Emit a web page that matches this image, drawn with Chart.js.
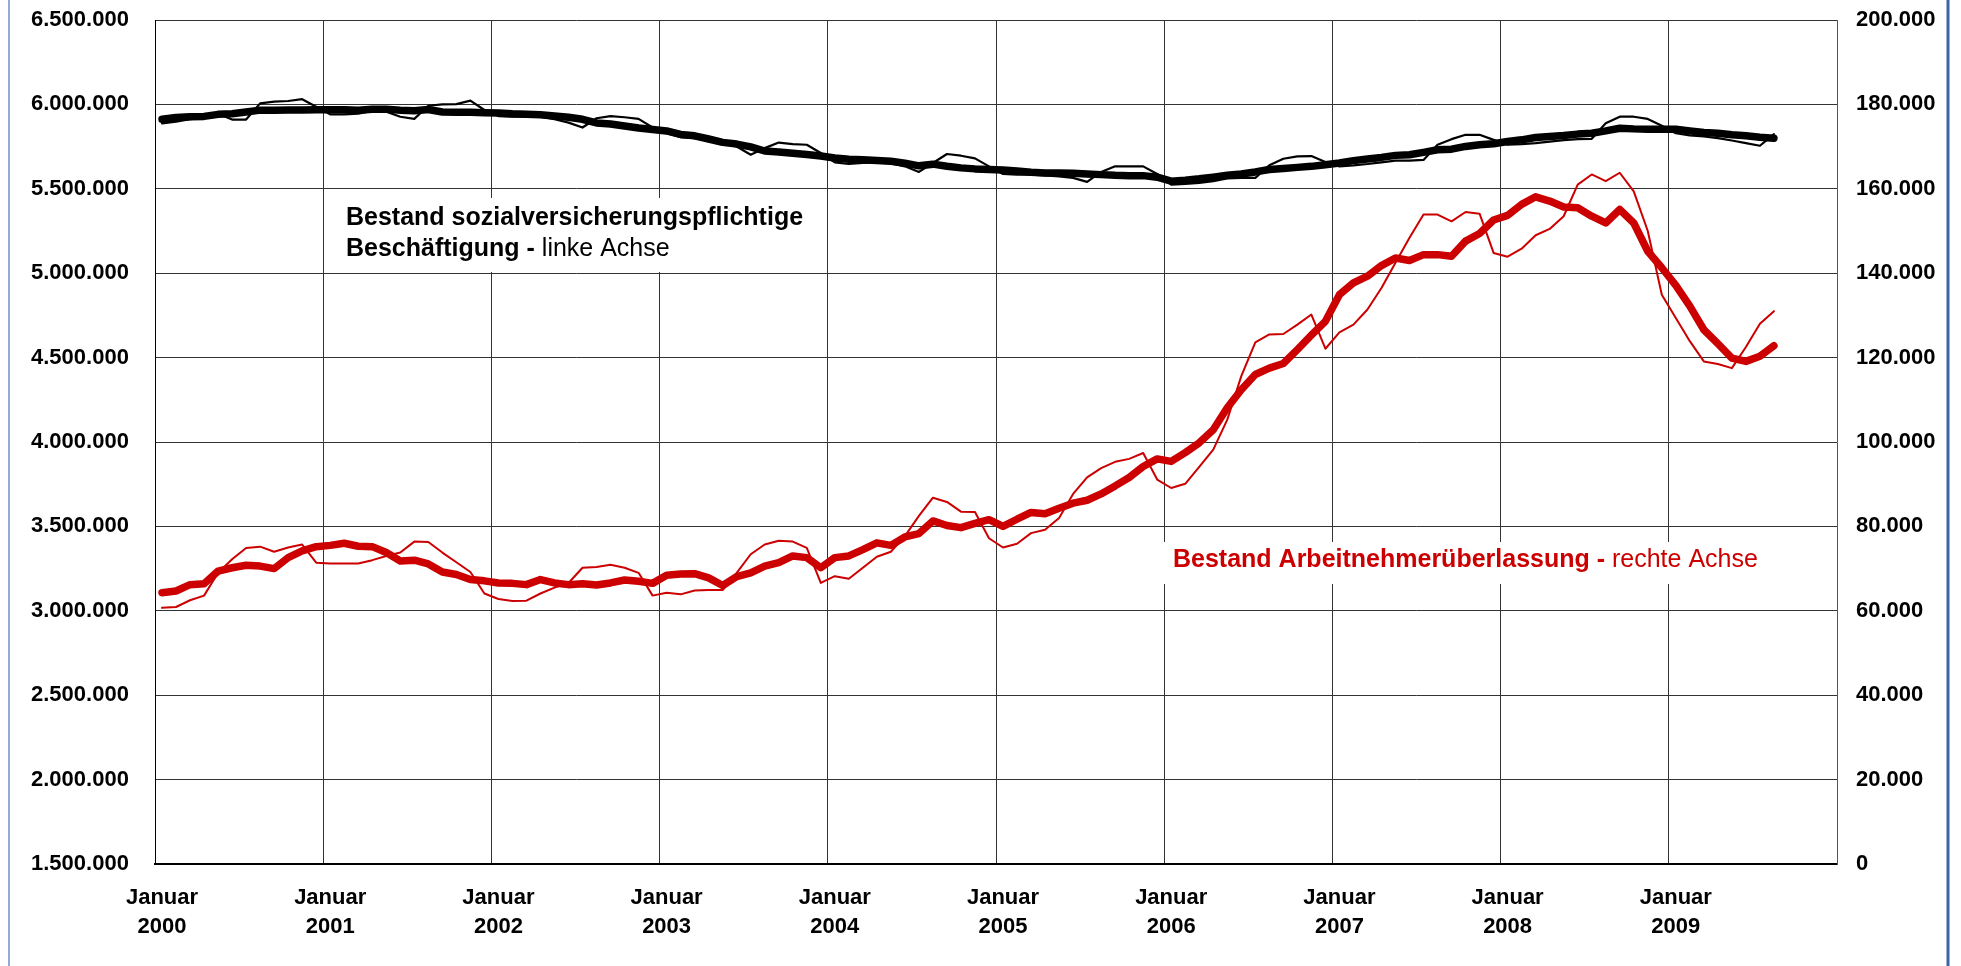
<!DOCTYPE html>
<html>
<head>
<meta charset="utf-8">
<script src="https://cdn.jsdelivr.net/npm/chart.js@4/dist/chart.umd.min.js"></script>
<style>
  body { margin: 0; background: #fff; }
  #wrap { width: 1961px; height: 966px; }
</style>
</head>
<body>
<div id="wrap"><canvas id="myChart"></canvas></div>
<script>
// categories: one slot per month, Jan 2000 - Dec 2009
let years = ['2000', '2001', '2002', '2003', '2004', '2005', '2006', '2007', '2008', '2009']
let monthNames = ['01', '02', '03', '04', '05', '06', '07', '08', '09', '10', '11', '12']
let labels = years.flatMap(y => monthNames.map(m => y + '-' + m))

// Bestand sozialversicherungspflichtige Beschaeftigung (left axis)
let employmentTrend = [
  5912000, 5922000, 5927000, 5929000, 5941000, 5945000, 5955000, 5966000, 5966000, 5967000, 5967000, 5968000,
  5969000, 5969000, 5965000, 5971000, 5972000, 5966000, 5963000, 5970000, 5955000, 5954000, 5953000, 5951000,
  5949000, 5944000, 5941000, 5939000, 5931000, 5924000, 5912000, 5890000, 5884000, 5872000, 5860000, 5851000,
  5843000, 5822000, 5814000, 5795000, 5775000, 5765000, 5748000, 5724000, 5718000, 5710000, 5703000, 5694000,
  5682000, 5675000, 5672000, 5667000, 5663000, 5652000, 5636000, 5646000, 5634000, 5624000, 5618000, 5615000,
  5612000, 5606000, 5598000, 5594000, 5594000, 5592000, 5588000, 5584000, 5580000, 5578000, 5578000, 5569000,
  5545000, 5551000, 5559000, 5569000, 5580000, 5588000, 5600000, 5614000, 5620000, 5627000, 5633000, 5643000,
  5653000, 5667000, 5676000, 5686000, 5698000, 5702000, 5716000, 5731000, 5735000, 5751000, 5761000, 5767000,
  5780000, 5790000, 5804000, 5810000, 5816000, 5824000, 5829000, 5843000, 5859000, 5855000, 5853000, 5853000,
  5853000, 5843000, 5833000, 5829000, 5820000, 5814000, 5806000, 5800000
]
let employmentRaw = [
  5888000, 5898000, 5912000, 5918000, 5945000, 5910000, 5910000, 6006000, 6016000, 6020000, 6031000, 5986000,
  5941000, 5941000, 5945000, 5961000, 5957000, 5927000, 5914000, 5992000, 6000000, 6002000, 6022000, 5967000,
  5931000, 5927000, 5927000, 5927000, 5912000, 5892000, 5863000, 5918000, 5931000, 5924000, 5914000, 5863000,
  5829000, 5806000, 5800000, 5784000, 5771000, 5751000, 5702000, 5741000, 5774000, 5765000, 5761000, 5712000,
  5657000, 5647000, 5653000, 5657000, 5651000, 5633000, 5600000, 5653000, 5706000, 5696000, 5680000, 5633000,
  5588000, 5584000, 5584000, 5580000, 5574000, 5565000, 5541000, 5600000, 5633000, 5633000, 5633000, 5588000,
  5525000, 5529000, 5535000, 5545000, 5561000, 5565000, 5565000, 5639000, 5678000, 5692000, 5694000, 5659000,
  5633000, 5639000, 5647000, 5657000, 5667000, 5667000, 5671000, 5761000, 5794000, 5820000, 5820000, 5790000,
  5761000, 5765000, 5771000, 5780000, 5788000, 5794000, 5796000, 5888000, 5927000, 5927000, 5914000, 5874000,
  5829000, 5816000, 5810000, 5800000, 5786000, 5771000, 5755000, 5824000
]

// Bestand Arbeitnehmerueberlassung (right axis)
let leasingTrend = [
  64300, 64700, 66200, 66400, 69400, 70200, 70800, 70600, 70000, 72600, 74200, 75200,
  75500, 76000, 75300, 75200, 73800, 71800, 72000, 71100, 69200, 68600, 67400, 67100,
  66600, 66500, 66200, 67400, 66600, 66200, 66400, 66100, 66600, 67300, 67000, 66500,
  68400, 68700, 68800, 67800, 66000, 68100, 69000, 70600, 71400, 73000, 72600, 70200,
  72600, 73000, 74500, 76100, 75500, 77500, 78300, 81300, 80200, 79700, 80700, 81600,
  80000, 81700, 83300, 83000, 84300, 85500, 86200, 87700, 89600, 91600, 94200, 96000,
  95400, 97500, 99800, 102900, 108100, 112400, 116000, 117500, 118600, 121900, 125300, 128600,
  134900, 137700, 139300, 141800, 143600, 143000, 144400, 144400, 144000, 147600, 149400, 152600,
  153700, 156300, 158100, 157100, 155700, 155500, 153500, 151900, 155100, 151900, 145200, 141300,
  137100, 132200, 126600, 123300, 119900, 119100, 120300, 122800
]
let leasingRaw = [
  60700, 60900, 62500, 63600, 69000, 72200, 74900, 75200, 74000, 75000, 75700, 71400,
  71200, 71200, 71200, 72000, 73000, 73800, 76400, 76300, 73800, 71500, 69200, 64100,
  62800, 62300, 62400, 64100, 65500, 66600, 70200, 70400, 70900, 70200, 69000, 63600,
  64300, 63900, 64800, 64900, 64900, 69000, 73400, 75700, 76600, 76400, 74900, 66600,
  68200, 67600, 70200, 72800, 74000, 77700, 82500, 86800, 85800, 83500, 83400, 77200,
  75000, 75900, 78400, 79200, 82000, 87700, 91600, 93800, 95300, 96000, 97400, 91100,
  89100, 90100, 94100, 98200, 105300, 115600, 123600, 125500, 125600, 127800, 130200, 122100,
  126000, 127800, 131400, 136500, 142500, 148400, 153900, 153900, 152300, 154500, 154100, 144800,
  143900, 145800, 149000, 150500, 153500, 161000, 163400, 161800, 163800, 159400, 150000, 134900,
  129400, 123900, 119100, 118500, 117500, 122500, 128000, 131000
]

let red = '#cc0000'
let font = '"Liberation Sans", Arial, sans-serif'
Chart.defaults.font.family = font

// 6500000 -> "6.500.000"
let dots = v => String(v).replace(/\B(?=(\d{3})+(?!\d))/g, '.')

// mixed bold / normal text line
function richLine(c, x, y, parts) {
  parts.forEach(p => {
    c.font = (p.bold ? 'bold ' : '') + '25px ' + font
    c.fillText(p.text, x, y)
    x += c.measureText(p.text).width
  })
}

let notes = {
  id: 'notes',
  beforeDraw(chart) {
    let c = chart.ctx
    c.save()
    c.fillStyle = '#fff'
    c.fillRect(0, 0, chart.width, chart.height)
    c.restore()
  },
  beforeDatasetsDraw(chart) {
    let c = chart.ctx
    c.save()
    c.fillStyle = '#fff'
    c.fillRect(335, 198, 475, 74)
    c.fillRect(1160, 542, 602, 42)
    c.textBaseline = 'alphabetic'
    c.fillStyle = '#000'
    richLine(c, 346, 225, [{ text: 'Bestand sozialversicherungspflichtige', bold: true }])
    richLine(c, 346, 256, [{ text: 'Beschäftigung - ', bold: true }, { text: 'linke Achse' }])
    c.fillStyle = red
    richLine(c, 1173, 567, [{ text: 'Bestand Arbeitnehmerüberlassung - ', bold: true }, { text: 'rechte Achse' }])
    c.restore()
  },
  afterDraw(chart) {
    let c = chart.ctx
    c.save()
    c.strokeStyle = '#6d8fc7'
    c.lineWidth = 1.5
    c.beginPath()
    c.moveTo(9, 0)
    c.lineTo(9, chart.height)
    c.stroke()
    c.strokeStyle = '#3a65a6'
    c.lineWidth = 3
    c.beginPath()
    c.moveTo(1948, 0)
    c.lineTo(1948, chart.height)
    c.stroke()
    c.restore()
  },
}

let tickFont = { size: 22, weight: 'bold', lineHeight: 1.3 }
// tiny line height on the value axes so the label overhang doesn't push the plot down
let valueFont = { size: 22, weight: 'bold', lineHeight: 0.05 }

let ctx = document.getElementById('myChart').getContext('2d')
let myChart = new Chart(ctx, {
  type: 'line',
  data: {
    labels: labels,
    datasets: [
      { data: employmentTrend, borderColor: '#000', borderWidth: 7.5, yAxisID: 'y' },
      { data: leasingTrend, borderColor: red, borderWidth: 7.5, yAxisID: 'y1' },
      { data: employmentRaw, borderColor: '#000', borderWidth: 2.2, yAxisID: 'y' },
      { data: leasingRaw, borderColor: red, borderWidth: 2, yAxisID: 'y1' },
    ],
  },
  options: {
    responsive: true,
    maintainAspectRatio: false,
    animation: false,
    layout: { padding: { top: 20, left: 31, right: 0, bottom: 0 } },
    elements: {
      point: { radius: 0 },
      line: { tension: 0, borderCapStyle: 'round', borderJoinStyle: 'round' },
    },
    plugins: {
      legend: { display: false },
      tooltip: { enabled: false },
    },
    scales: {
      x: {
        offset: true,
        grid: {
          offset: true,
          drawTicks: false,
          color: (c) => (c.index % 12 === 0 ? '#333' : 'transparent'),
        },
        border: { color: '#000', width: 2 },
        ticks: {
          autoSkip: false,
          maxRotation: 0,
          minRotation: 0,
          padding: 20,
          color: '#000',
          font: tickFont,
          callback: (v, i) => (i % 12 === 0 ? ['Januar', labels[i].slice(0, 4)] : ''),
        },
        afterFit: (s) => { s.height = 102 },
      },
      y: {
        position: 'left',
        min: 1500000,
        max: 6500000,
        grid: { color: '#333', drawTicks: false },
        border: { color: '#000' },
        ticks: { stepSize: 500000, padding: 0, crossAlign: 'far', color: '#000', font: valueFont, callback: dots },
        afterFit: (s) => { s.width = 124 },
      },
      y1: {
        position: 'right',
        min: 0,
        max: 200000,
        grid: { drawOnChartArea: false, drawTicks: false },
        border: { color: '#555' },
        ticks: { stepSize: 20000, padding: 19, color: '#000', font: valueFont, callback: dots },
        afterFit: (s) => { s.width = 124 },
      },
    },
  },
  plugins: [notes],
})
</script>
</body>
</html>
